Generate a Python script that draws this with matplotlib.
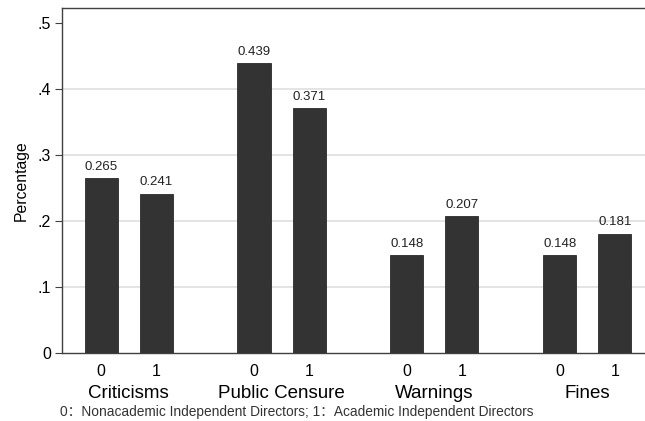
import matplotlib.pyplot as plt
import matplotlib.transforms as mtransforms

plt.rcParams['font.family'] = ['Liberation Sans', 'Noto Sans CJK SC', 'DejaVu Sans']

groups = ['Criticisms', 'Public Censure', 'Warnings', 'Fines']
sub_labels = ['0', '1']
nonacademic = [0.265, 0.439, 0.148, 0.148]
academic = [0.241, 0.371, 0.207, 0.181]
y_ticks = [0, 0.1, 0.2, 0.3, 0.4, 0.5]
y_tick_labels = ['0', '.1', '.2', '.3', '.4', '.5']
note = '0：Nonacademic Independent Directors; 1：Academic Independent Directors'

bar_color = '#333333'
offset = 0.18
width = 0.216

fig = plt.figure(figsize=(6.45, 4.21), dpi=100)
# axes runs a little past the right edge of the figure, as in the original crop
ax = fig.add_axes([62 / 645, 68 / 421, 591 / 645, 345 / 421])

xs, heights, ticks = [], [], []
for i in range(len(groups)):
    for j, vals in enumerate([nonacademic, academic]):
        x = i + (j * 2 - 1) * offset
        xs.append(x)
        heights.append(vals[i])
        ticks.append(sub_labels[j])

bars = ax.bar(xs, heights, width=width, color=bar_color, edgecolor='#2a2a2a',
              linewidth=0.6, zorder=3)
for x, h in zip(xs, heights):
    ax.annotate(f'{h:.3f}', (x, h), xytext=(0, 4), textcoords='offset points',
                ha='center', va='bottom', fontsize=9.5, color='#222222')

ax.set_xlim(-0.436, 3.43)
ax.set_ylim(0, 0.5227)
ax.set_yticks(y_ticks)
ax.set_yticklabels(y_tick_labels, fontsize=11.5)
ax.set_xticks(xs)
ax.set_xticklabels(ticks, fontsize=11.5)
ax.tick_params(axis='x', length=0, pad=8)
ax.tick_params(axis='y', length=5, width=0.8, color='#404040', pad=3)

for y in [0.1, 0.2, 0.3, 0.4]:
    ax.axhline(y, color='#e2e2e2', linewidth=1.3, zorder=1)

for side in ['left', 'top', 'bottom']:
    ax.spines[side].set_color('#404040')
    ax.spines[side].set_linewidth(1.0)
ax.spines['right'].set_visible(False)

ax.set_ylabel('Percentage', fontsize=11.3, labelpad=6)

trans = mtransforms.blended_transform_factory(ax.transData, fig.transFigure)
for i, g in enumerate(groups):
    ax.text(i, 1 - 394 / 421, g, transform=trans, ha='center', va='center',
            fontsize=13.5)

fig.text(60 / 645, 1 - 412 / 421, note, ha='left', va='center', fontsize=9.9,
         color='#333333')

fig.savefig('out.png', dpi=100)
